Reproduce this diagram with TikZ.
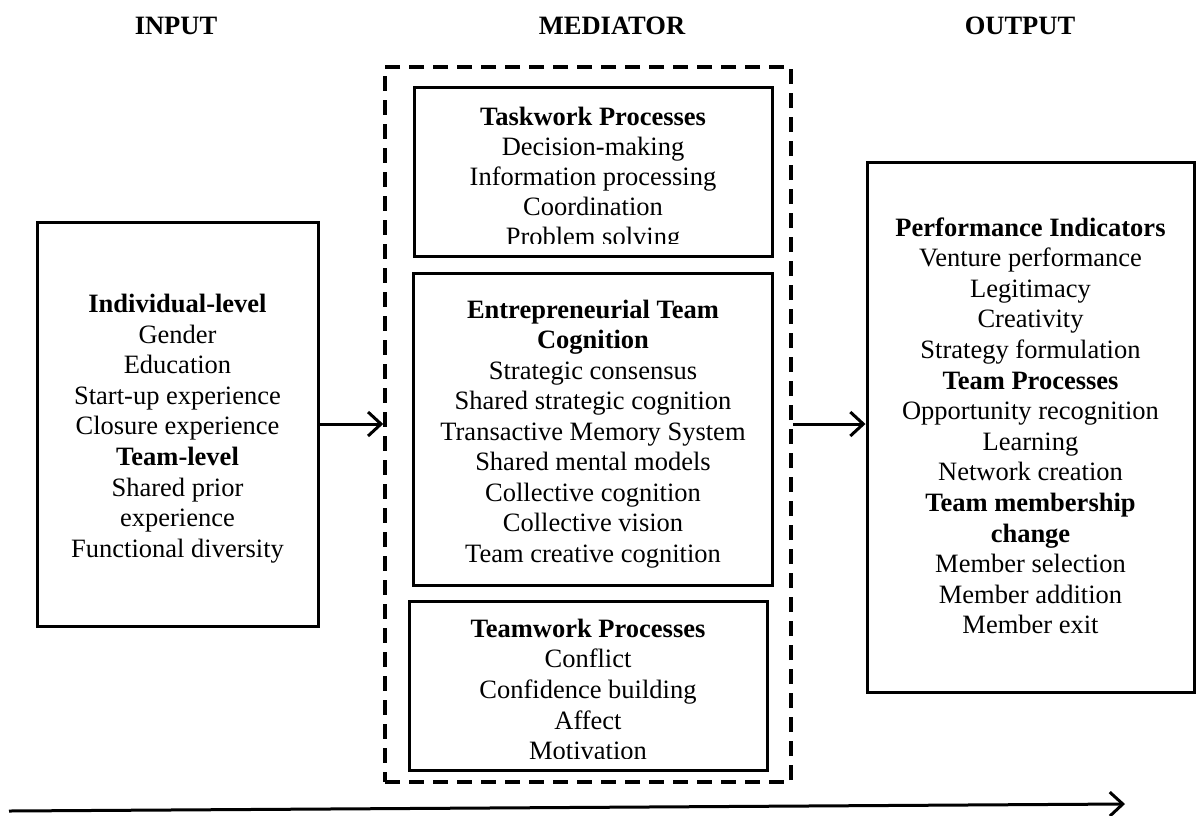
\documentclass[tikz,border=0pt]{standalone}
\usepackage{fontspec}
\setmainfont{Liberation Serif}
\usetikzlibrary{arrows.meta}
\begin{document}
\begin{tikzpicture}[x=1pt,y=-1pt,
  every node/.style={font=\fontsize{26.5}{30.6}\selectfont, inner sep=0pt},
  frame/.style={draw, line width=3pt},
  dashframe/.style={draw, line width=3.5pt, dash pattern=on 15pt off 9pt},
  flow/.style={line width=3pt, -{Straight Barb[length=13pt,width=24pt,line width=3pt]}},
  item/.style={anchor=base},
  header/.style={anchor=base, font=\fontsize{26.5}{30.6}\selectfont\bfseries}]
\useasboundingbox (0,0) rectangle (1196,815);

% column headers
\node[header] (h-in)  at (176,34)  {INPUT};
\node[header] (h-med) at (612,34)  {MEDIATOR};
\node[header] (h-out) at (1020,34) {OUTPUT};

% frames
\node[frame, minimum width=281pt, minimum height=404pt] (input) at (177.5,424) {};
\node[dashframe, minimum width=406pt, minimum height=715pt] (mediator) at (588,424.5) {};
\node[frame, minimum width=358pt, minimum height=169pt] (task) at (593,171.5) {};
\node[frame, minimum width=359pt, minimum height=312pt] (etc) at (592.5,429) {};
\node[frame, minimum width=358pt, minimum height=169pt] (team) at (588,685.5) {};
\node[frame, minimum width=327pt, minimum height=530pt] (output) at (1030.5,427) {};

% input factors
\foreach \t [count=\i from 0] in {\textbf{Individual-level},Gender,Education,Start-up experience,Closure experience,\textbf{Team-level},Shared prior,experience,Functional diversity}
  \node[item] (in-\i) at (177.5,312.5+\i*30.6) {\t};

% taskwork processes (text runs past the bottom of its box)
\begin{scope}
  \clip (414,87) rectangle (772,243);
  \foreach \t [count=\i from 0] in {\textbf{Taskwork Processes},Decision-making,Information processing,Coordination,Problem solving}
    \node[item] (tk-\i) at (593,125+\i*30.2) {\t};
\end{scope}

% entrepreneurial team cognition
\foreach \t [count=\i from 0] in {\textbf{Entrepreneurial Team},\textbf{Cognition},Strategic consensus,Shared strategic cognition,Transactive Memory System,Shared mental models,Collective cognition,Collective vision,Team creative cognition}
  \node[item] (ec-\i) at (593,318+\i*30.5) {\t};

% teamwork processes
\begin{scope}
  \clip (409,601) rectangle (767,758);
  \foreach \t [count=\i from 0] in {\textbf{Teamwork Processes},Conflict,Confidence building,Affect,Motivation}
    \node[item] (tm-\i) at (588,637+\i*30.7) {\t};
\end{scope}

% outcomes
\foreach \t [count=\i from 0] in {\textbf{Performance Indicators},Venture performance,Legitimacy,Creativity,Strategy formulation,\textbf{Team Processes},Opportunity recognition,Learning,Network creation,\textbf{Team membership},\textbf{change},Member selection,Member addition,Member exit}
  \node[item] (out-\i) at (1030.5,236+\i*30.6) {\t};

% connectors
\draw[flow] (input.east) -- (input.east -| mediator.west);
\draw[flow] (mediator.east |- input.east) -- (output.west |- input.east);

% time line
\coordinate (t-start) at (9,811);
\coordinate (t-end) at (1125,804);
\draw[flow] (t-start) -- (t-end);
\end{tikzpicture}
\end{document}
